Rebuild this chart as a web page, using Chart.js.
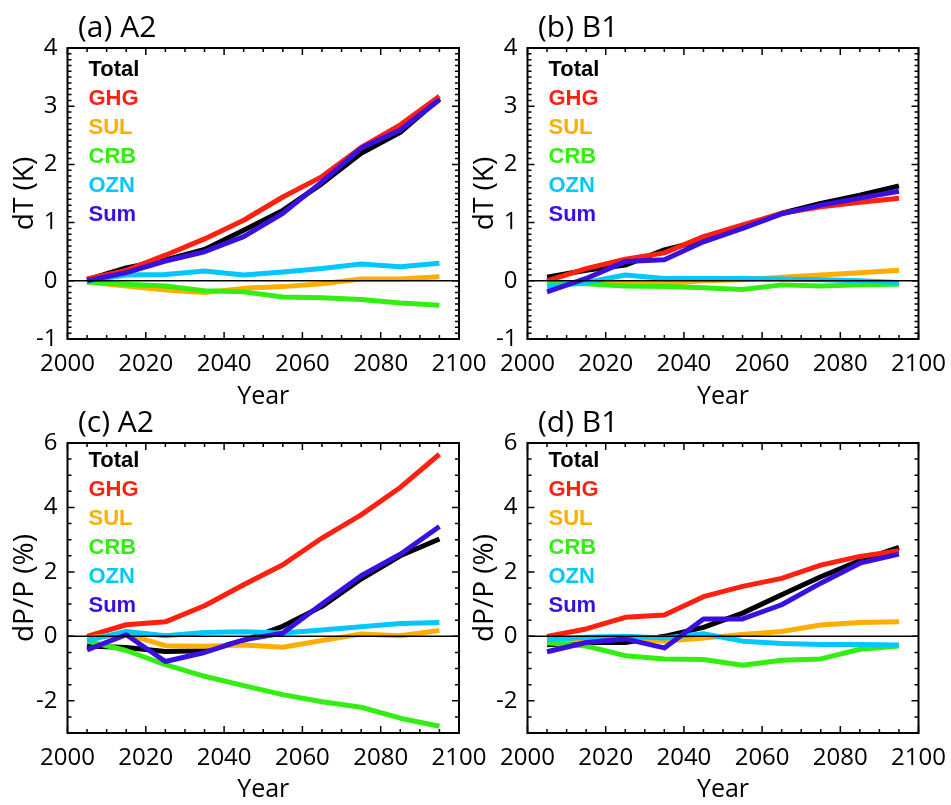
<!DOCTYPE html>
<html>
<head>
<meta charset="utf-8">
<title>dT and dP/P by forcing</title>
<script src="https://cdn.jsdelivr.net/npm/chart.js@4.4.1/dist/chart.umd.min.js"></script>
<style>
    body { margin: 0; background: #ffffff; }
    #wrap { position: relative; width: 951px; height: 805px; overflow: hidden; background: #ffffff; }
    canvas { position: absolute; }
</style>
</head>
<body>
<div id="wrap">
    <canvas id="panelA" width="495" height="412" style="left:0px;top:0px"></canvas>
    <canvas id="panelB" width="491" height="412" style="left:460px;top:0px"></canvas>
    <canvas id="panelC" width="495" height="410" style="left:0px;top:395px"></canvas>
    <canvas id="panelD" width="491" height="410" style="left:460px;top:395px"></canvas>
</div>
<script>
// decade midpoints
var years = [2005, 2015, 2025, 2035, 2045, 2055, 2065, 2075, 2085, 2095];
var seriesNames = ['Total', 'GHG', 'SUL', 'CRB', 'OZN', 'Sum'];
var seriesColors = ['#000000', '#ff2010', '#ffae00', '#33ee11', '#00c8ff', '#3a10e0'];

// (a) A2 temperature change (K)
var a2TempTotal = [0.02, 0.22, 0.36, 0.54, 0.87, 1.21, 1.67, 2.19, 2.55, 3.13];
var a2TempGhg = [0.03, 0.18, 0.44, 0.72, 1.04, 1.44, 1.79, 2.29, 2.68, 3.17];
var a2TempSul = [-0.02, -0.09, -0.16, -0.20, -0.13, -0.10, -0.05, 0.03, 0.03, 0.07];
var a2TempCrb = [-0.02, -0.06, -0.09, -0.17, -0.19, -0.28, -0.29, -0.32, -0.38, -0.42];
var a2TempOzn = [0.00, 0.10, 0.11, 0.17, 0.10, 0.15, 0.21, 0.29, 0.24, 0.30];
var a2TempSum = [0.00, 0.14, 0.34, 0.50, 0.76, 1.16, 1.70, 2.28, 2.59, 3.11];

// (b) B1 temperature change (K)
var b1TempTotal = [0.06, 0.18, 0.27, 0.53, 0.70, 0.93, 1.16, 1.33, 1.47, 1.63];
var b1TempGhg = [0.00, 0.21, 0.37, 0.48, 0.76, 0.96, 1.16, 1.27, 1.35, 1.42];
var b1TempSul = [-0.03, -0.03, -0.05, -0.05, 0.00, 0.02, 0.06, 0.10, 0.14, 0.18];
var b1TempCrb = [-0.05, -0.05, -0.09, -0.10, -0.12, -0.15, -0.07, -0.09, -0.07, -0.06];
var b1TempOzn = [-0.10, -0.03, 0.10, 0.04, 0.04, 0.04, 0.03, 0.02, 0.00, -0.03];
var b1TempSum = [-0.19, 0.04, 0.33, 0.36, 0.67, 0.90, 1.15, 1.30, 1.42, 1.54];

// (c) A2 precipitation change (%)
var a2PrecTotal = [-0.30, -0.35, -0.47, -0.45, -0.13, 0.31, 0.93, 1.78, 2.50, 3.02];
var a2PrecGhg = [0.00, 0.36, 0.45, 0.95, 1.60, 2.22, 3.05, 3.77, 4.62, 5.65];
var a2PrecSul = [-0.05, 0.07, -0.29, -0.31, -0.27, -0.34, -0.13, 0.07, 0.02, 0.18];
var a2PrecCrb = [-0.15, -0.44, -0.88, -1.24, -1.53, -1.81, -2.03, -2.20, -2.54, -2.79];
var a2PrecOzn = [-0.13, 0.15, 0.02, 0.12, 0.14, 0.10, 0.20, 0.30, 0.40, 0.43];
var a2PrecSum = [-0.42, 0.05, -0.78, -0.50, -0.11, 0.10, 1.00, 1.88, 2.55, 3.41];

// (d) B1 precipitation change (%)
var b1PrecTotal = [-0.26, -0.19, -0.19, 0.00, 0.28, 0.72, 1.29, 1.85, 2.35, 2.76];
var b1PrecGhg = [0.00, 0.23, 0.59, 0.66, 1.23, 1.55, 1.80, 2.21, 2.48, 2.66];
var b1PrecSul = [-0.12, -0.10, -0.05, -0.15, -0.05, 0.06, 0.15, 0.35, 0.43, 0.45];
var b1PrecCrb = [-0.20, -0.30, -0.60, -0.70, -0.72, -0.90, -0.74, -0.70, -0.40, -0.30];
var b1PrecOzn = [-0.10, -0.03, 0.00, -0.05, 0.08, -0.15, -0.22, -0.25, -0.25, -0.27];
var b1PrecSum = [-0.48, -0.19, -0.08, -0.36, 0.54, 0.54, 0.98, 1.65, 2.27, 2.55];

Chart.defaults.font.family = "'Open Sans', 'Noto Sans', sans-serif";
Chart.defaults.color = '#000000';

function toPoints(values) {
    return values.map(function (v, i) {
        return {x: years[i], y: v};
    });
}

// box, inward ticks on all four sides, zero line
var frameTicks = {
    id: 'frameTicks',
    afterDatasetsDraw: function (chart) {
        var ctx = chart.ctx;
        var area = chart.chartArea;
        var xs = chart.scales.x;
        var ys = chart.scales.y;
        var p = chart.options.plugins.frameTicks;
        ctx.save();
        ctx.strokeStyle = '#000000';

        // zero line
        ctx.lineWidth = 1.5;
        var y0 = ys.getPixelForValue(0);
        ctx.beginPath();
        ctx.moveTo(area.left, y0);
        ctx.lineTo(area.right, y0);
        ctx.stroke();

        ctx.lineWidth = 1.5;
        var i, v, px, len;
        var nx = Math.round((xs.max - xs.min) / p.xMinor);
        for (i = 0; i <= nx; i++) {
            v = xs.min + i * p.xMinor;
            px = xs.getPixelForValue(v);
            len = (Math.abs(v / p.xMajor - Math.round(v / p.xMajor)) < 1e-6) ? 7 : 4;
            ctx.beginPath();
            ctx.moveTo(px, area.bottom);
            ctx.lineTo(px, area.bottom - len);
            ctx.moveTo(px, area.top);
            ctx.lineTo(px, area.top + len);
            ctx.stroke();
        }
        var ny = Math.round((ys.max - ys.min) / p.yMinor);
        for (i = 0; i <= ny; i++) {
            v = ys.min + i * p.yMinor;
            px = ys.getPixelForValue(v);
            len = (Math.abs(v / p.yMajor - Math.round(v / p.yMajor)) < 1e-6) ? 7 : 4;
            ctx.beginPath();
            ctx.moveTo(area.left, px);
            ctx.lineTo(area.left + len, px);
            ctx.moveTo(area.right, px);
            ctx.lineTo(area.right - len, px);
            ctx.stroke();
        }

        ctx.lineWidth = 2;
        ctx.strokeRect(area.left, area.top, area.right - area.left, area.bottom - area.top);
        ctx.restore();
    },
    afterDraw: function (chart) {
        var ctx = chart.ctx;
        var area = chart.chartArea;
        var p = chart.options.plugins.frameTicks;
        ctx.save();
        // panel title
        ctx.font = "30px 'Open Sans', sans-serif";
        ctx.fillStyle = '#000000';
        ctx.textAlign = 'left';
        ctx.textBaseline = 'alphabetic';
        ctx.fillText(p.title, area.left + 10.5, area.top - 11.5);
        // coloured text legend
        ctx.font = "bold 22px 'Liberation Sans', Arial, sans-serif";
        chart.data.datasets.forEach(function (ds, k) {
            ctx.fillStyle = ds.borderColor;
            ctx.fillText(ds.label, area.left + 21, area.top + p.legendTop + k * 29);
        });
        ctx.restore();
    }
};

function makePanel(canvasId, title, yTitle, yMin, yMax, yStep, yMinor, rightPad, xAxisHeight, legendTop, series) {
    var datasets = series.map(function (values, k) {
        return {
            label: seriesNames[k],
            data: toPoints(values),
            borderColor: seriesColors[k],
            backgroundColor: seriesColors[k],
            borderWidth: 5,
            borderJoinStyle: 'round',
            pointRadius: 0,
            tension: 0,
            fill: false,
            order: series.length - k
        };
    });

    return new Chart(document.getElementById(canvasId), {
        type: 'line',
        data: {datasets: datasets},
        plugins: [frameTicks],
        options: {
            responsive: false,
            animation: false,
            events: [],
            layout: {padding: {left: 0, right: rightPad, top: 48, bottom: 0}},
            plugins: {
                legend: {display: false},
                title: {display: false},
                tooltip: {enabled: false},
                frameTicks: {title: title, legendTop: legendTop, xMinor: 5, xMajor: 20, yMinor: yMinor, yMajor: yStep}
            },
            scales: {
                x: {
                    type: 'linear',
                    min: 2000,
                    max: 2100,
                    grid: {display: false, drawTicks: false},
                    border: {display: false},
                    ticks: {
                        stepSize: 20,
                        padding: 11,
                        maxRotation: 0,
                        autoSkip: false,
                        font: {size: 24},
                        callback: function (v) { return String(v); }
                    },
                    title: {display: true, text: 'Year', font: {size: 25}, padding: {top: 0, bottom: 0}},
                    afterFit: function (scale) {
                        scale.height = xAxisHeight;
                        scale.paddingLeft = 0;
                        scale.paddingRight = 0;
                    }
                },
                y: {
                    type: 'linear',
                    min: yMin,
                    max: yMax,
                    grid: {display: false, drawTicks: false},
                    border: {display: false},
                    ticks: {
                        stepSize: yStep,
                        padding: 10,
                        font: {size: 24},
                        callback: function (v) {
                            return (Math.abs(v % yStep) < 1e-9) ? String(v) : null;
                        }
                    },
                    title: {display: true, text: yTitle, font: {size: 28}, padding: {top: 8, bottom: 0}},
                    afterFit: function (scale) {
                        scale.width = 67.5;
                    }
                }
            }
        }
    });
}

makePanel('panelA', '(a) A2', 'dT (K)', -1, 4, 1, 0.1, 36, 73, 28,
    [a2TempTotal, a2TempGhg, a2TempSul, a2TempCrb, a2TempOzn, a2TempSum]);
makePanel('panelB', '(b) B1', 'dT (K)', -1, 4, 1, 0.1, 32.5, 73, 28,
    [b1TempTotal, b1TempGhg, b1TempSul, b1TempCrb, b1TempOzn, b1TempSum]);
makePanel('panelC', '(c) A2', 'dP/P (%)', -3, 6, 2, 0.5, 36, 72, 24,
    [a2PrecTotal, a2PrecGhg, a2PrecSul, a2PrecCrb, a2PrecOzn, a2PrecSum]);
makePanel('panelD', '(d) B1', 'dP/P (%)', -3, 6, 2, 0.5, 32.5, 72, 24,
    [b1PrecTotal, b1PrecGhg, b1PrecSul, b1PrecCrb, b1PrecOzn, b1PrecSum]);
</script>
</body>
</html>
